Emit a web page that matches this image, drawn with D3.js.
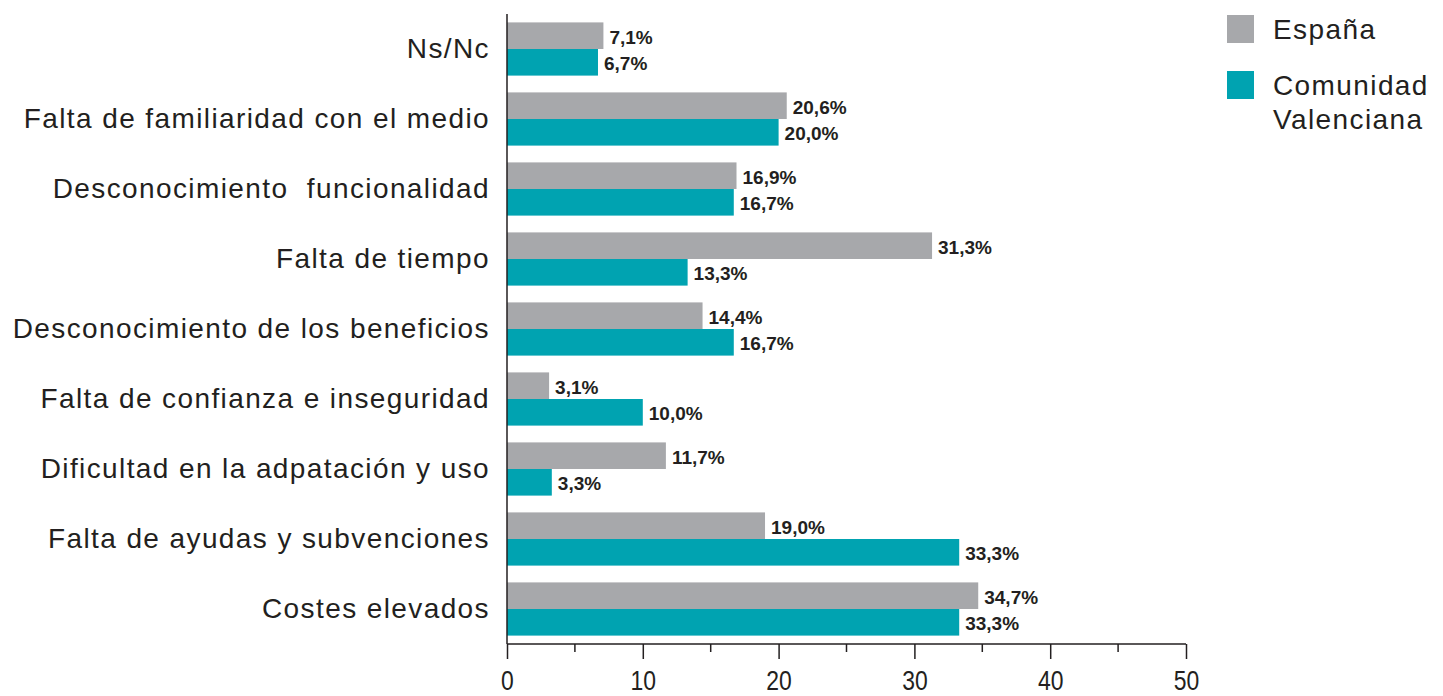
<!DOCTYPE html>
<html>
<head>
<meta charset="utf-8">
<script src="https://cdn.jsdelivr.net/npm/d3@7"></script>
<style>
  body { margin: 0; background: #fff; }
  svg { display: block; }
</style>
</head>
<body>
<div id="chart"></div>
<script>
var categories = [
    "Ns/Nc",
    "Falta de familiaridad con el medio",
    "Desconocimiento  funcionalidad",
    "Falta de tiempo",
    "Desconocimiento de los beneficios",
    "Falta de confianza e inseguridad",
    "Dificultad en la adpatación y uso",
    "Falta de ayudas y subvenciones",
    "Costes elevados"
];
var seriesNames = ["España", "Comunidad Valenciana"];
var espana = [7.1, 20.6, 16.9, 31.3, 14.4, 3.1, 11.7, 19.0, 34.7];
var valenciana = [6.7, 20.0, 16.7, 13.3, 16.7, 10.0, 3.3, 33.3, 33.3];
var xTicks = [0, 10, 20, 30, 40, 50];
var colors = ["#a7a8ab", "#00a3b1"];

function createChart() {
    var w = 1443;
    var h = 696;
    var left = 507, right = 1186, top = 14, bottom = 644;
    var textColor = "#231f20";

    var svg = d3.select("#chart")
        .append("svg")
        .attr("width", w)
        .attr("height", h);

    var x = d3.scaleLinear().domain([0, 50]).range([left, right]);
    var y = d3.scaleBand().domain(categories).range([top, bottom])
        .paddingInner(0.24).paddingOuter(0.12);
    var sub = d3.scaleBand().domain([0, 1]).range([0, y.bandwidth()]);

    var rows = categories.map(function(c, i) {
        return { cat: c, vals: [espana[i], valenciana[i]] };
    });

    var groups = svg.selectAll("g.row")
        .data(rows)
        .enter()
        .append("g")
        .attr("class", "row")
        .attr("transform", function(d) { return "translate(0," + y(d.cat) + ")"; });

    groups.selectAll("rect")
        .data(function(d) { return d.vals; })
        .enter()
        .append("rect")
        .attr("x", x(0))
        .attr("y", function(d, i) { return sub(i); })
        .attr("width", function(d) { return x(d) - x(0); })
        .attr("height", sub.bandwidth())
        .attr("fill", function(d, i) { return colors[i]; });

    groups.selectAll("text.val")
        .data(function(d) { return d.vals; })
        .enter()
        .append("text")
        .attr("class", "val")
        .attr("x", function(d) { return x(d) + 6; })
        .attr("y", function(d, i) { return sub(i) + sub.bandwidth() / 2 + 8; })
        .attr("font-family", "'Liberation Sans', Arial, sans-serif")
        .attr("font-weight", "bold")
        .attr("font-size", "19px")
        .attr("fill", textColor)
        .text(function(d) { return d.toFixed(1).replace(".", ",") + "%"; });

    // category labels
    svg.selectAll("text.cat")
        .data(categories)
        .enter()
        .append("text")
        .attr("class", "cat")
        .attr("x", 490)
        .attr("y", function(d) { return y(d) + y.bandwidth() / 2 + 9; })
        .attr("text-anchor", "end")
        .attr("font-family", "'Liberation Sans', Arial, sans-serif")
        .attr("font-size", "28px")
        .attr("letter-spacing", "1.4px")
        .attr("fill", textColor)
        .style("white-space", "pre")
        .text(function(d) { return d; });

    // vertical axis line
    svg.append("line")
        .attr("x1", left).attr("x2", left)
        .attr("y1", top).attr("y2", bottom)
        .attr("stroke", textColor).attr("stroke-width", 1.5);

    // x axis with minor ticks
    var axisG = svg.append("g").attr("transform", "translate(0," + bottom + ")");
    axisG.append("line")
        .attr("x1", left).attr("x2", right)
        .attr("stroke", textColor).attr("stroke-width", 1.5);
    axisG.selectAll("line.minor")
        .data(d3.range(5, 50, 10))
        .enter()
        .append("line")
        .attr("x1", function(d) { return x(d); })
        .attr("x2", function(d) { return x(d); })
        .attr("y2", 8)
        .attr("stroke", textColor).attr("stroke-width", 1.5);
    var xAxis = d3.axisBottom(x).tickValues(xTicks).tickSize(15).tickPadding(12);
    axisG.append("g").call(xAxis)
        .call(function(g) { g.select(".domain").remove(); })
        .call(function(g) {
            g.selectAll("line").attr("stroke", textColor).attr("stroke-width", 1.5);
            g.selectAll("text")
                .attr("font-family", "'Liberation Sans', Arial, sans-serif")
                .attr("font-size", "27px")
                .attr("transform", "scale(0.85,1)")
                .attr("fill", textColor);
        });

    // legend
    var legend = svg.append("g").attr("transform", "translate(1227,15)");
    var legendLines = [["España"], ["Comunidad", "Valenciana"]];
    legendLines.forEach(function(lines, i) {
        var g = legend.append("g").attr("transform", "translate(0," + (i * 56) + ")");
        g.append("rect")
            .attr("width", 27).attr("height", 28)
            .attr("fill", colors[i]);
        g.selectAll("text")
            .data(lines)
            .enter()
            .append("text")
            .attr("x", 46)
            .attr("y", function(d, j) { return 24 + j * 34; })
            .attr("font-family", "'Liberation Sans', Arial, sans-serif")
            .attr("font-size", "28px")
            .attr("letter-spacing", "1.4px")
            .attr("fill", textColor)
            .text(function(d) { return d; });
    });
}

createChart();
</script>
</body>
</html>
